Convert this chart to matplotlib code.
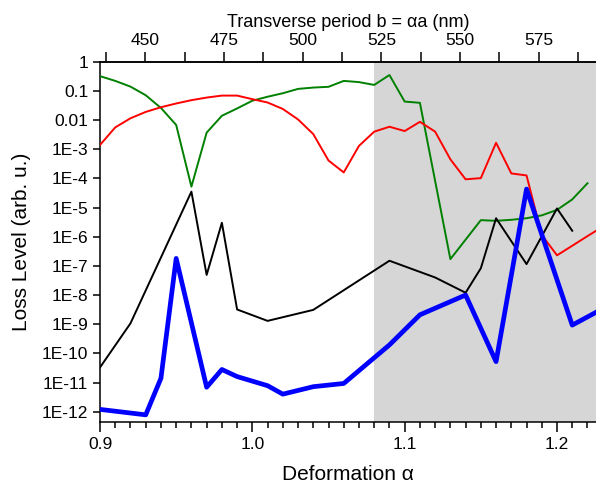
import matplotlib
matplotlib.use("Agg")
import matplotlib.pyplot as plt
from matplotlib.ticker import FixedLocator, NullFormatter

plt.rcParams["font.family"] = ["Liberation Sans", "DejaVu Sans"]

# lattice constant used for the top axis, b = alpha * a
A_NM = 484.0

green_x = [0.90, 0.91, 0.92, 0.93, 0.94, 0.95, 0.96, 0.97, 0.98, 0.99, 1.00,
           1.01, 1.02, 1.03, 1.04, 1.05, 1.06, 1.07, 1.08, 1.09, 1.10, 1.11,
           1.13, 1.15, 1.16, 1.17, 1.18, 1.19, 1.20, 1.21, 1.22]
green_y = [3.2e-1, 2.2e-1, 1.4e-1, 7.1e-2, 2.6e-2, 6.8e-3, 5.2e-5, 3.7e-3,
           1.4e-2, 2.5e-2, 4.6e-2, 6.3e-2, 8.3e-2, 1.17e-1, 1.3e-1, 1.38e-1,
           2.2e-1, 2.0e-1, 1.6e-1, 3.5e-1, 4.3e-2, 3.9e-2, 1.7e-7, 3.7e-6,
           3.5e-6, 3.8e-6, 4.3e-6, 5.4e-6, 8.3e-6, 1.9e-5, 6.8e-5]

red_x = [0.90, 0.91, 0.92, 0.93, 0.94, 0.95, 0.96, 0.97, 0.98, 0.99, 1.00,
         1.01, 1.02, 1.03, 1.04, 1.05, 1.06, 1.07, 1.08, 1.09, 1.10, 1.11,
         1.12, 1.13, 1.14, 1.15, 1.16, 1.17, 1.18, 1.19, 1.20, 1.21, 1.22,
         1.23]
red_y = [1.4e-3, 5.6e-3, 1.15e-2, 1.9e-2, 2.75e-2, 3.7e-2, 4.8e-2, 5.9e-2,
         6.9e-2, 6.9e-2, 5.2e-2, 4.0e-2, 2.4e-2, 1.05e-2, 3.3e-3, 4.1e-4,
         1.6e-4, 1.3e-3, 4.0e-3, 5.9e-3, 4.2e-3, 8.7e-3, 4.0e-3, 4.5e-4,
         9.3e-5, 1.02e-4, 1.66e-3, 1.48e-4, 1.26e-4, 1.15e-6, 2.3e-7, 4.9e-7,
         1.05e-6, 2.2e-6]

black_x = [0.90, 0.92, 0.96, 0.97, 0.98, 0.99, 1.01, 1.04, 1.09, 1.12, 1.14,
           1.15, 1.16, 1.18, 1.20, 1.21]
black_y = [3.3e-11, 1.07e-9, 3.5e-5, 4.9e-8, 3.0e-6, 3.2e-9, 1.3e-9, 3.1e-9,
           1.5e-7, 4.0e-8, 1.2e-8, 8.3e-8, 4.3e-6, 1.15e-7, 9.3e-6, 1.6e-6]

blue_x = [0.90, 0.93, 0.94, 0.95, 0.97, 0.98, 0.99, 1.01, 1.02, 1.04, 1.06,
          1.09, 1.11, 1.14, 1.16, 1.18, 1.21, 1.23]
blue_y = [1.2e-12, 7.8e-13, 1.4e-11, 1.8e-7, 6.9e-12, 2.8e-11, 1.6e-11,
          7.8e-12, 4.0e-12, 7.2e-12, 9.3e-12, 1.95e-10, 2.1e-9, 1.0e-8,
          5.2e-11, 4.3e-5, 9.3e-10, 3.4e-9]

ytick_vals = [1, 1e-1, 1e-2, 1e-3, 1e-4, 1e-5, 1e-6, 1e-7, 1e-8, 1e-9,
              1e-10, 1e-11, 1e-12]
ytick_labels = ["1", "0.1", "0.01", "1E-3", "1E-4", "1E-5", "1E-6", "1E-7",
                "1E-8", "1E-9", "1E-10", "1E-11", "1E-12"]
top_major = [450, 475, 500, 525, 550, 575]
top_minor = [437.5, 462.5, 487.5, 512.5, 537.5, 562.5, 587.5]

fig = plt.figure(figsize=(5.96, 4.86), dpi=100)
ax = fig.add_axes([0.1678, 0.1317, 0.8322, 0.7413])

ax.axvspan(1.08, 1.3, color="#d6d6d6", lw=0, zorder=0)

ax.plot(green_x, green_y, color="#008000", lw=1.4, zorder=3)
ax.plot(red_x, red_y, color="#ff0000", lw=1.4, zorder=3)
ax.plot(black_x, black_y, color="black", lw=1.4, zorder=3)
ax.plot(blue_x, blue_y, color="#0000ff", lw=3.4, zorder=4)

ax.set_yscale("log")
ax.set_xlim(0.9, 1.2256)
ax.set_ylim(10 ** -12.353, 1)

ax.yaxis.set_major_locator(FixedLocator(ytick_vals))
ax.set_yticks(ytick_vals)
ax.set_yticklabels(ytick_labels)
ax.yaxis.set_minor_locator(FixedLocator([]))
ax.set_xticks([0.9, 1.0, 1.1, 1.2])
ax.set_xticklabels(["0.9", "1.0", "1.1", "1.2"])
ax.set_xticks([0.9 + 0.01 * i for i in range(33)], minor=True)

ax.tick_params(axis="both", which="major", labelsize=12.5, width=1.1)
ax.tick_params(axis="x", which="major", direction="out", length=7)
ax.tick_params(axis="x", which="minor", direction="out", length=4, width=1.1)
ax.tick_params(axis="y", which="major", direction="out", length=5,
               right=True)
ax.tick_params(axis="y", which="major", labelright=False)
ax.tick_params(axis="x", which="both", top=False)

for side in ["left", "bottom", "top"]:
    ax.spines[side].set_linewidth(1.1)
ax.spines["right"].set_visible(False)

ax.set_xlabel("Deformation α", fontsize=15, labelpad=10)
ax.set_ylabel("Loss Level (arb. u.)", fontsize=15)
ax.yaxis.set_label_coords(-0.14, 0.5)

top = ax.secondary_xaxis("top", functions=(lambda a: a * A_NM,
                                           lambda b: b / A_NM))
top.set_xticks(top_major)
top.set_xticklabels([str(v) for v in top_major])
top.xaxis.set_minor_locator(FixedLocator(top_minor))
top.xaxis.set_minor_formatter(NullFormatter())
top.tick_params(which="major", direction="out", length=7, width=1.1,
                labelsize=12.5, pad=3)
top.tick_params(which="minor", direction="out", length=7, width=1.1)
top.spines["top"].set_linewidth(1.1)
top.set_xlabel("Transverse period b = αa (nm)", fontsize=13, labelpad=4)

fig.savefig("out.png", dpi=100)
